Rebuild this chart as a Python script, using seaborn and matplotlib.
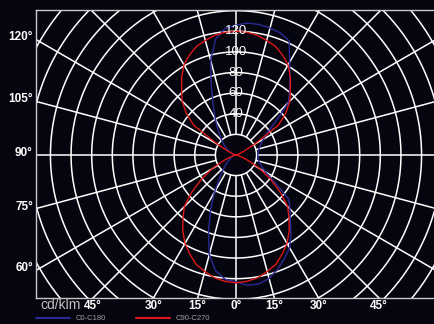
import numpy as np
import matplotlib
matplotlib.use("Agg")
import matplotlib.pyplot as plt
import seaborn as sns
import pandas as pd

# gamma angle (deg, 0 = nadir, 180 = zenith) and intensities in cd/klm
gamma = list(range(0, 181, 5))
c0 = [123, 127, 127, 124, 118, 111, 104, 93, 82, 74, 67, 45, 33, 28, 25, 23, 22, 21.5, 21,
      21.5, 22, 23, 25, 27, 31, 36, 50, 72, 81, 91, 104, 122, 126, 127.5, 128.5, 128.5, 126]
c180 = [123, 121, 114, 100, 78, 58, 42, 29, 20, 15, 11, 8, 6, 4, 3, 2, 1, 0.5, 0,
        0.5, 1, 3, 4, 6, 9, 12, 15, 19, 24, 31, 40, 52, 70, 95, 114, 123, 126]
c90 = [124, 123, 121, 117, 113, 106, 99, 90, 80, 71, 56, 41, 27, 14, 6, 2, 1, 0, 0,
       0, 1, 1.5, 3, 8, 20, 50, 63, 74, 82, 92, 101, 107, 112, 115, 118, 119.5, 120]
c270 = list(c90)

rings = list(range(20, 241, 20))
ring_labels = [40, 60, 80, 100, 120]
side_ticks = [60, 75, 90, 105, 120]
bottom_ticks = [-45, -30, -15, 0, 15, 30, 45]

bg = "#05050f"
fnt = ["Liberation Sans Narrow", "Liberation Sans", "DejaVu Sans"]

sns.set_style("dark")
plt.rcParams["font.family"] = fnt


def plane(right, left):
    g = np.radians(gamma)
    x = np.concatenate([np.array(right) * np.sin(g), -(np.array(left) * np.sin(g))[::-1]])
    y = np.concatenate([-np.array(right) * np.cos(g), -(np.array(left) * np.cos(g))[::-1]])
    return pd.DataFrame({"x": x, "y": y, "i": np.arange(len(x))})


fig = plt.figure(figsize=(4.35, 3.24), dpi=100, facecolor=bg)
ax = fig.add_axes([36 / 435, 26 / 324, 400 / 435, 288 / 324])
ax.set_facecolor(bg)
xmax = 194
ymin, ymax = -138.7, 140.6
ax.set_xlim(-xmax, xmax)
ax.set_ylim(ymin, ymax)
ax.grid(False)

# polar grid
t = np.linspace(0, 2 * np.pi, 400)
for r in rings:
    ax.plot(r * np.cos(t), r * np.sin(t), color="white", lw=1.1, zorder=1)
for a in range(0, 360, 15):
    ar = np.radians(a)
    ax.plot([20 * np.sin(ar), 400 * np.sin(ar)], [-20 * np.cos(ar), -400 * np.cos(ar)],
            color="white", lw=1.1, zorder=1)

# curves
blue = plane(c0, c180)
red = plane(c90, c270)
sns.lineplot(data=blue, x="x", y="y", sort=False, estimator=None, color="#2b2b98",
             lw=1.0, ax=ax, zorder=3)
sns.lineplot(data=red, x="x", y="y", sort=False, estimator=None, color="#e01818",
             lw=1.0, ax=ax, zorder=3)
ax.set_aspect("equal")
ax.set_xlabel("")
ax.set_ylabel("")
ax.set_xticks([])
ax.set_yticks([])

for v in ring_labels:
    ax.text(0, v, str(v), color="white", fontsize=9.5, ha="center", va="center",
            family=["Liberation Sans", "DejaVu Sans"], zorder=5)

for s in ["left", "top", "bottom"]:
    ax.spines[s].set_color("#c8c8c8")
    ax.spines[s].set_linewidth(1.0)
ax.spines["right"].set_visible(False)

lt = ax.get_yaxis_transform()
for a in side_ticks:
    y = -xmax / np.tan(np.radians(a)) if a != 90 else 0
    ax.text(-0.008, y + 2, f"{a}°", transform=lt, color="white", fontsize=8.5,
            fontweight="bold", ha="right", va="center")
bt = ax.get_xaxis_transform()
for a in bottom_ticks:
    x = -ymin * np.tan(np.radians(a))
    ax.text(x, -0.028, f"{abs(a)}°", transform=bt, color="white", fontsize=8.5,
            fontweight="bold", ha="center", va="center")

fig.text(40 / 435, 1 - 305 / 324, "cd/klm", color="#c0c0c0", fontsize=10,
         family=["Liberation Sans", "DejaVu Sans"], va="center", ha="left")
fig.lines.append(plt.Line2D([36 / 435, 70 / 435], [1 - 318 / 324] * 2, color="#2b2b98",
                            lw=1.5, transform=fig.transFigure))
fig.lines.append(plt.Line2D([136 / 435, 170 / 435], [1 - 318 / 324] * 2, color="#e01818",
                            lw=1.5, transform=fig.transFigure))
fig.text(76 / 435, 1 - 318 / 324, "C0-C180", color="#a0a0a0", fontsize=5.5,
         family=["Liberation Sans", "DejaVu Sans"], va="center", ha="left")
fig.text(176 / 435, 1 - 318 / 324, "C90-C270", color="#a0a0a0", fontsize=5.5,
         family=["Liberation Sans", "DejaVu Sans"], va="center", ha="left")

fig.savefig("out.png", dpi=100, facecolor=bg)
